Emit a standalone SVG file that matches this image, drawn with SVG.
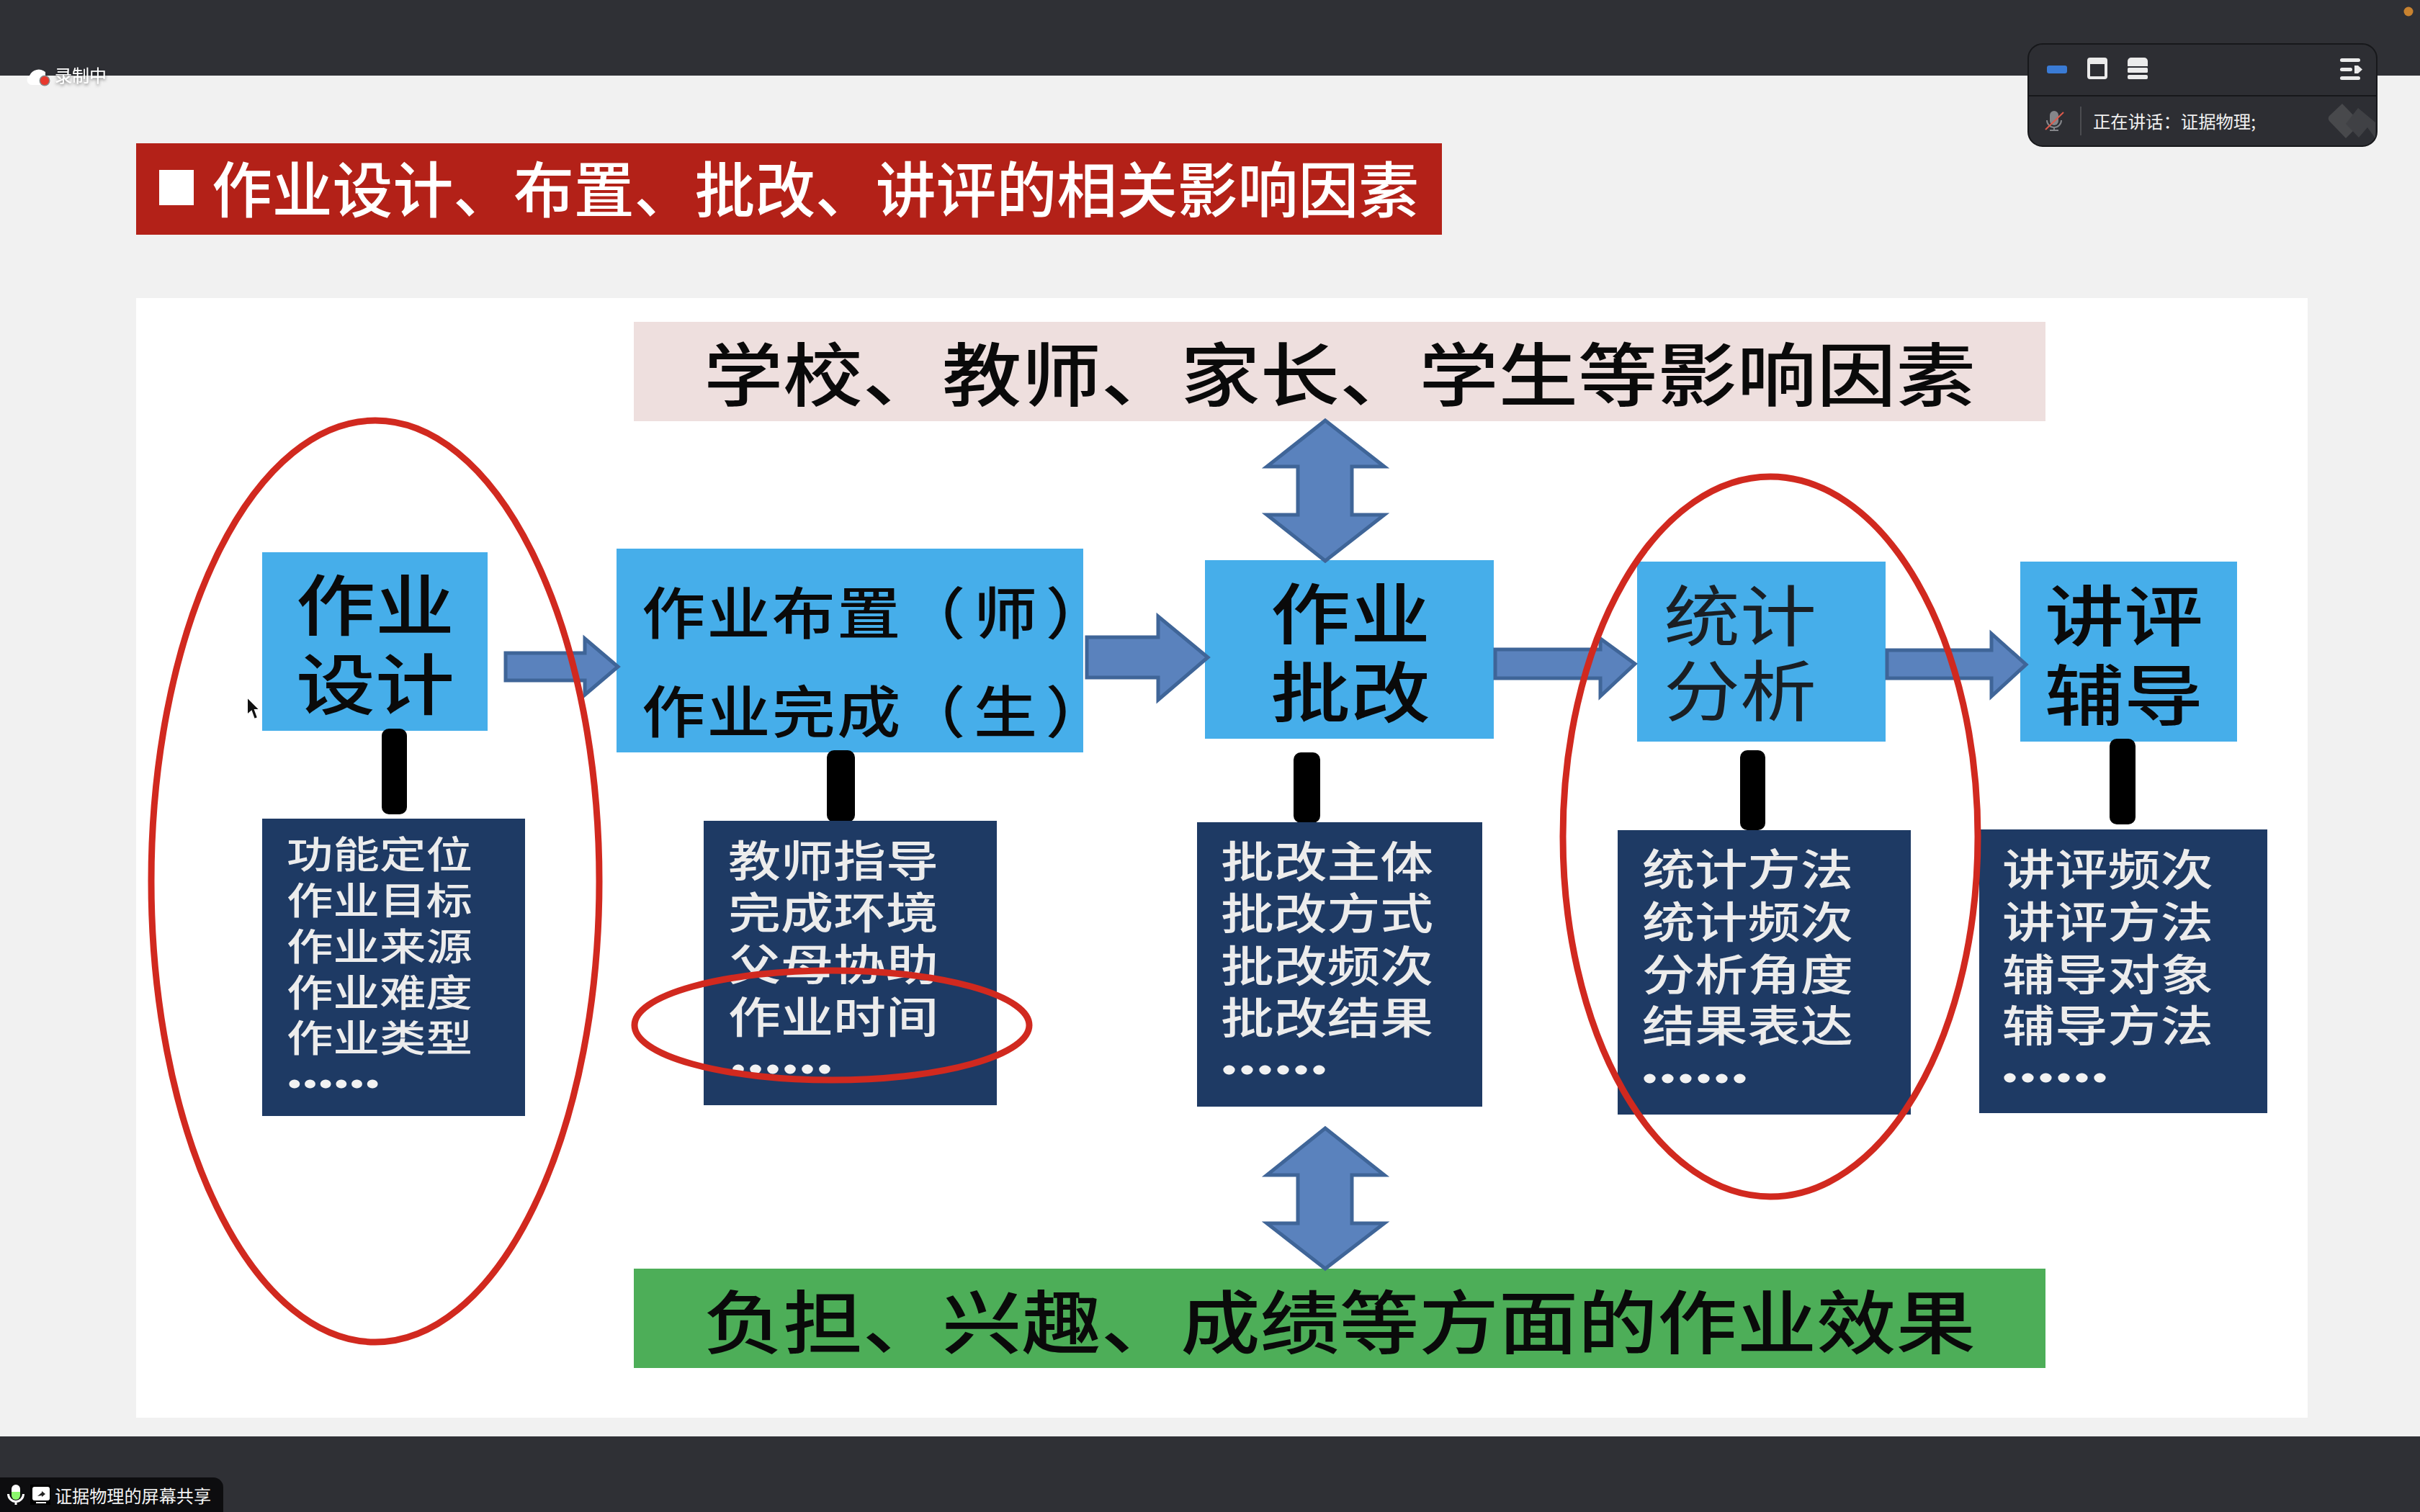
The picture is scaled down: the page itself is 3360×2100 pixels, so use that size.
<svg xmlns="http://www.w3.org/2000/svg" width="3360" height="2100" viewBox="0 0 3360 2100">
<defs>
<style>
text{font-family:"Noto Sans CJK SC","Noto Sans",sans-serif}
.box{fill:#46aeea}
.dark{fill:#1e3a64}
.arrow{fill:#5a82bd;stroke:#3f6598;stroke-width:5;stroke-linejoin:miter}
.stem{fill:#000}
.ring{fill:none;stroke:#d1291f;stroke-width:9}
.bt{fill:#0a0a0a;font-weight:500}
.st{fill:#ececec;font-weight:500}
.dots{fill:#f2f2f2;stroke:#f2f2f2;stroke-width:5}
.ui{fill:#f0f0f0}
</style>
<filter id="soft" x="-20%" y="-20%" width="140%" height="160%"><feDropShadow dx="0" dy="2" stdDeviation="2" flood-color="#000" flood-opacity="0.55"/></filter>
</defs>
<rect width="3360" height="2100" fill="#f1f1f1"/>
<rect width="3360" height="105" fill="#2f3035"/>
<rect y="1995" width="3360" height="105" fill="#2f3035"/>
<g id="recording">
<path d="M44 118a7 7 0 0 1-3-13 14 14 0 0 1 22-5l0 18z" fill="#fff"/>
<circle cx="62" cy="112" r="7.500" fill="#8a8a8a"/>
<circle cx="62" cy="112" r="6" fill="#e8382d"/>
<text x="76" y="114" font-size="24" textLength="72" lengthAdjust="spacingAndGlyphs" fill="#fff" filter="url(#soft)">录制中</text>
</g>
<circle cx="3344" cy="16" r="6.5" fill="#c8822f"/>
<g id="speaker-panel">
<rect x="2816" y="61" width="484" height="142" rx="20" fill="#2d2e33" stroke="#17181b" stroke-width="2"/>
<line x1="2817" y1="133" x2="3299" y2="133" stroke="#17181b" stroke-width="2"/>
<rect x="2842" y="91" width="28" height="11" rx="3" fill="#3a7bd5"/>
<path d="M2902 80h20a4 4 0 0 1 4 4v22a4 4 0 0 1-4 4h-20a4 4 0 0 1-4-4v-22a4 4 0 0 1 4-4zM2902 89v17h20v-17z" fill="#ebebeb" fill-rule="evenodd"/>
<path d="M2959 80h18a5 5 0 0 1 5 5v7h-28v-7a5 5 0 0 1 5-5z" fill="#ebebeb"/>
<rect x="2954" y="94" width="28" height="7" rx="1.5" fill="#ebebeb"/>
<rect x="2954" y="104" width="28" height="6" rx="2" fill="#ebebeb"/>
<rect x="3249" y="81" width="28" height="5" rx="2.5" fill="#ebebeb"/>
<rect x="3249" y="94" width="17" height="5" rx="2.5" fill="#ebebeb"/>
<rect x="3249" y="106" width="28" height="5" rx="2.5" fill="#ebebeb"/>
<path d="M3269 91h5l6 5.500-6 5.500h-5z" fill="#ebebeb"/>
<rect x="2846" y="154" width="12" height="20" rx="6" fill="#85868a"/>
<path d="M2842 167a10 10 0 0 0 20 0M2852 177v4M2846 181h12" fill="none" stroke="#85868a" stroke-width="2"/>
<line x1="2840" y1="180" x2="2865" y2="156" stroke="#dd5a4c" stroke-width="2"/>
<line x1="2889" y1="148" x2="2889" y2="188" stroke="#4b4c50" stroke-width="2"/>
<text x="2906" y="178" font-size="24" textLength="226" lengthAdjust="spacingAndGlyphs" class="ui">正在讲话：证据物理;</text>
<path d="M3252 144l26 27-21 21-23-24a6 6 0 0 1 0-7z" fill="#48494c"/>
<path d="M3274 150l24 20v22l-11-15-12 14-18-19z" fill="#404145"/>
</g>
<g id="title-banner">
<rect x="189" y="199" width="1813" height="127" fill="#b32118"/>
<rect x="221" y="236" width="48" height="49" fill="#fff"/>
<text x="294" y="295" font-size="84" textLength="1676" lengthAdjust="spacingAndGlyphs" fill="#fff" font-weight="500">作业设计、布置、批改、讲评的相关影响因素</text>
</g>
<rect id="slide-panel" x="189" y="414" width="3015" height="1555" fill="#fff"/>
<g id="factors-top">
<rect x="880" y="447" width="1960" height="138" fill="#eedfde"/>
<text x="977" y="556" font-size="96" textLength="1766" lengthAdjust="spacingAndGlyphs" class="bt">学校、教师、家长、学生等影响因素</text>
</g>
<g id="effects-bottom">
<rect x="880" y="1762" width="1960" height="138" fill="#4dae58"/>
<text x="977" y="1872" font-size="96" textLength="1766" lengthAdjust="spacingAndGlyphs" class="bt">负担、兴趣、成绩等方面的作业效果</text>
</g>
<g id="node-design">
<rect class="box" x="364" y="767" width="313" height="248"/>
<text class="bt" x="411" y="875" font-size="92" textLength="220" lengthAdjust="spacingAndGlyphs">作业</text>
<text class="bt" x="411" y="985" font-size="92" textLength="220" lengthAdjust="spacingAndGlyphs">设计</text>
</g>
<g id="node-assign">
<rect class="box" x="856" y="762" width="648" height="283"/>
<text class="bt" transform="translate(891 881) scale(1.13 1)" x="0 80 160 240 320 408 496" y="0" font-size="78">作业布置（师）</text>
<text class="bt" transform="translate(891 1018) scale(1.13 1)" x="0 80 160 240 320 408 496" y="0" font-size="78">作业完成（生）</text>
</g>
<g id="node-correct">
<rect class="box" x="1673" y="778" width="401" height="248"/>
<text class="bt" x="1764" y="887" font-size="92" textLength="222" lengthAdjust="spacingAndGlyphs">作业</text>
<text class="bt" x="1764" y="996" font-size="92" textLength="222" lengthAdjust="spacingAndGlyphs">批改</text>
</g>
<g id="node-stats">
<rect class="box" x="2273" y="780" width="345" height="250"/>
<text x="2310" y="890" font-size="92" textLength="212" lengthAdjust="spacingAndGlyphs" fill="#1a1f24">统计</text>
<text x="2310" y="994" font-size="92" textLength="212" lengthAdjust="spacingAndGlyphs" fill="#1a1f24">分析</text>
</g>
<g id="node-review">
<rect class="box" x="2805" y="780" width="301" height="250"/>
<text class="bt" x="2839" y="890" font-size="92" textLength="220" lengthAdjust="spacingAndGlyphs">讲评</text>
<text class="bt" x="2839" y="1000" font-size="92" textLength="220" lengthAdjust="spacingAndGlyphs">辅导</text>
</g>
<g id="connectors">
<path class="arrow" d="M702 907H812V887L858 926 812 965V945H702z"/>
<path class="arrow" d="M1509 885H1608V856L1677 913 1608 972V941H1509z"/>
<path class="arrow" d="M2076 902H2222V887L2270 922 2222 967V942H2076z"/>
<path class="arrow" d="M2620 903H2765V880L2813 923 2765 967V942H2620z"/>
<path class="arrow" d="M1840 584L1922 648H1877V715H1922L1840 779 1759 715H1802V648H1759z"/>
<path class="arrow" d="M1840 1567L1922 1632H1877V1699H1922L1840 1762 1759 1699H1802V1632H1759z"/>
<rect class="stem" x="530" y="1012" width="35" height="119" rx="10"/>
<rect class="stem" x="1148" y="1042" width="39" height="100" rx="10"/>
<rect class="stem" x="1796" y="1045" width="37" height="98" rx="10"/>
<rect class="stem" x="2416" y="1042" width="35" height="111" rx="10"/>
<rect class="stem" x="2929" y="1026" width="36" height="119" rx="10"/>
</g>
<g id="list-design">
<rect class="dark" x="364" y="1137" width="365" height="413"/>
<g font-size="52">
<text class="st" x="398" y="1206" textLength="258" lengthAdjust="spacingAndGlyphs">功能定位</text>
<text class="st" x="398" y="1270" textLength="258" lengthAdjust="spacingAndGlyphs">作业目标</text>
<text class="st" x="398" y="1334" textLength="258" lengthAdjust="spacingAndGlyphs">作业来源</text>
<text class="st" x="398" y="1398" textLength="258" lengthAdjust="spacingAndGlyphs">作业难度</text>
<text class="st" x="398" y="1461" textLength="258" lengthAdjust="spacingAndGlyphs">作业类型</text>
<text class="dots" x="398" y="1525" textLength="130" lengthAdjust="spacingAndGlyphs">……</text>
</g>
</g>
<g id="list-assign">
<rect class="dark" x="977" y="1140" width="407" height="395"/>
<g font-size="60">
<text class="st" x="1011" y="1218" textLength="292" lengthAdjust="spacingAndGlyphs">教师指导</text>
<text class="st" x="1011" y="1290" textLength="292" lengthAdjust="spacingAndGlyphs">完成环境</text>
<text class="st" x="1011" y="1362" textLength="292" lengthAdjust="spacingAndGlyphs">父母协助</text>
<text class="st" x="1011" y="1435" textLength="292" lengthAdjust="spacingAndGlyphs">作业时间</text>
<text class="dots" x="1013" y="1508" textLength="144" lengthAdjust="spacingAndGlyphs">……</text>
</g>
</g>
<g id="list-correct">
<rect class="dark" x="1662" y="1142" width="396" height="395"/>
<g font-size="60">
<text class="st" x="1695" y="1219" textLength="295" lengthAdjust="spacingAndGlyphs">批改主体</text>
<text class="st" x="1695" y="1291" textLength="295" lengthAdjust="spacingAndGlyphs">批改方式</text>
<text class="st" x="1695" y="1364" textLength="295" lengthAdjust="spacingAndGlyphs">批改频次</text>
<text class="st" x="1695" y="1436" textLength="295" lengthAdjust="spacingAndGlyphs">批改结果</text>
<text class="dots" x="1694" y="1509" textLength="150" lengthAdjust="spacingAndGlyphs">……</text>
</g>
</g>
<g id="list-stats">
<rect class="dark" x="2246" y="1153" width="407" height="395"/>
<g font-size="60">
<text class="st" x="2280" y="1230" textLength="293" lengthAdjust="spacingAndGlyphs">统计方法</text>
<text class="st" x="2280" y="1303" textLength="293" lengthAdjust="spacingAndGlyphs">统计频次</text>
<text class="st" x="2280" y="1376" textLength="293" lengthAdjust="spacingAndGlyphs">分析角度</text>
<text class="st" x="2280" y="1447" textLength="293" lengthAdjust="spacingAndGlyphs">结果表达</text>
<text class="dots" x="2278" y="1521" textLength="150" lengthAdjust="spacingAndGlyphs">……</text>
</g>
</g>
<g id="list-review">
<rect class="dark" x="2748" y="1152" width="400" height="394"/>
<g font-size="60">
<text class="st" x="2780" y="1230" textLength="293" lengthAdjust="spacingAndGlyphs">讲评频次</text>
<text class="st" x="2780" y="1303" textLength="293" lengthAdjust="spacingAndGlyphs">讲评方法</text>
<text class="st" x="2780" y="1376" textLength="293" lengthAdjust="spacingAndGlyphs">辅导对象</text>
<text class="st" x="2780" y="1447" textLength="293" lengthAdjust="spacingAndGlyphs">辅导方法</text>
<text class="dots" x="2778" y="1520" textLength="150" lengthAdjust="spacingAndGlyphs">……</text>
</g>
</g>
<g id="annotations">
<ellipse class="ring" cx="521" cy="1224" rx="311" ry="640"/>
<ellipse class="ring" cx="2458" cy="1162" rx="288" ry="500"/>
<ellipse class="ring" cx="1155" cy="1424" rx="274" ry="76"/>
</g>
<path id="cursor" d="M343 968V993L349 988 353 999 358 997 354 986 361 986z" fill="#111" stroke="#fff" stroke-width="2"/>
<g id="share-tab">
<path d="M0 2052H296a14 14 0 0 1 14 14V2100H0z" fill="#0d0d0f"/>
<path d="M16 2072h12v5a6 6 0 0 1-12 0z" fill="#8bf76d"/>
<path d="M16 2072v-4a6 6 0 0 1 12 0v4z" fill="#fff"/>
<path d="M11.500 2075a10.500 10.500 0 0 0 21 0M22 2085v5" fill="none" stroke="#fff" stroke-width="3"/>
<rect x="42" y="2062" width="28" height="28" fill="#000"/>
<rect x="45" y="2065" width="24" height="19" rx="3" fill="#fff"/>
<rect x="50" y="2086" width="14" height="2" fill="#fff"/>
<path d="M52 2078l6-5v-2l5 4-5 4v-2z" fill="#222"/>
<text x="76" y="2087" font-size="24" textLength="217" lengthAdjust="spacingAndGlyphs" fill="#f4f4f4">证据物理的屏幕共享</text>
</g>
</svg>
